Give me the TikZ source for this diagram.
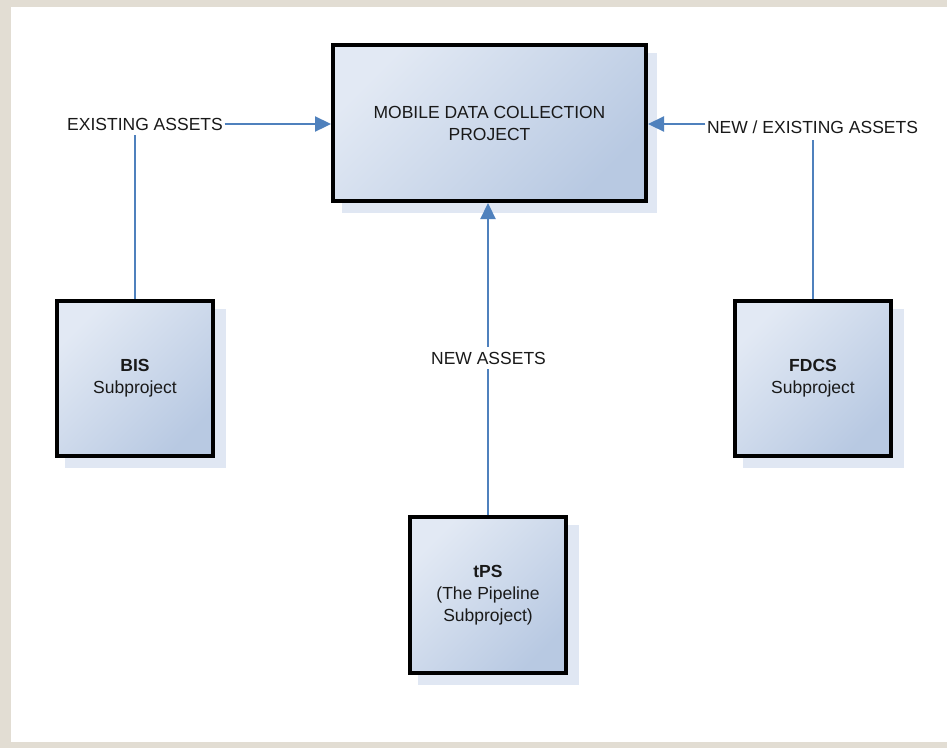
\documentclass[tikz,border=0pt]{standalone}
\usepackage{fontspec}
\setmainfont{Liberation Sans}
\usetikzlibrary{arrows.meta,positioning,patterns}
\definecolor{bgbeige}{RGB}{226,221,211}
\definecolor{lineblue}{RGB}{79,129,189}
\definecolor{boxlight}{RGB}{226,233,244}
\definecolor{boxdark}{RGB}{184,201,226}
\definecolor{shadowblue}{RGB}{224,231,243}
\definecolor{txt}{RGB}{25,25,25}
\tikzset{
  boxnode/.style={draw=black, line width=4pt, top color=boxlight, bottom color=boxdark,
    shading angle=45, align=center, text=txt, font=\fontsize{17.5}{22}\selectfont,
    inner sep=0pt},
  lbl/.style={text=txt, font=\fontsize{17.5}{22}\selectfont, inner sep=1.5pt},
  conn/.style={draw=lineblue, line width=2.3pt},
  arr/.style={conn, -{Triangle[length=16pt,width=15pt]}},
}
\begin{document}
\begin{tikzpicture}[x=1pt,y=-1pt]
\useasboundingbox (0,0) rectangle (947,748);
\fill[bgbeige] (0,0) rectangle (947,748);
\fill[white] (11,7) rectangle (947,742);
% shadows
\fill[shadowblue] (342,53) rectangle (657,213);
\fill[shadowblue] (65,309) rectangle (226,468);
\fill[shadowblue] (743,309) rectangle (904,468);
\fill[shadowblue] (418,525) rectangle (579,685);
% boxes
\node[boxnode, minimum width=313pt, minimum height=156pt] (main) at (489.5,123)
  {MOBILE DATA COLLECTION\\PROJECT};
\node[boxnode, minimum width=156pt, minimum height=155pt] (bis) at (135,378.5)
  {\textbf{BIS}\\Subproject};
\node[boxnode, minimum width=156pt, minimum height=155pt] (fdcs) at (813,378.5)
  {\textbf{FDCS}\\Subproject};
\node[boxnode, minimum width=156pt, minimum height=156pt] (tps) at (488,595)
  {\textbf{tPS}\\(The Pipeline\\Subproject)};
% labels
\node[lbl] (ex) at (145,124) {EXISTING ASSETS};
\node[lbl] (nex) at (812.5,127) {NEW / EXISTING ASSETS};
\node[lbl, inner sep=5pt] (new) at (488.5,358) {NEW ASSETS};
% connectors
\draw[conn] (bis.north) -- (bis.north |- 0,135);
\draw[arr] (ex.east) -- (ex.east -| main.west);
\draw[conn] (fdcs.north) -- (fdcs.north |- 0,140);
\draw[arr] (nex.west |- 0,124) -- (main.east |- 0,124);
\draw[conn] (tps.north) -- (tps.north |- new.south);
\draw[arr] (tps.north |- new.north) -- (main.south -| tps.north);
\end{tikzpicture}
\end{document}
